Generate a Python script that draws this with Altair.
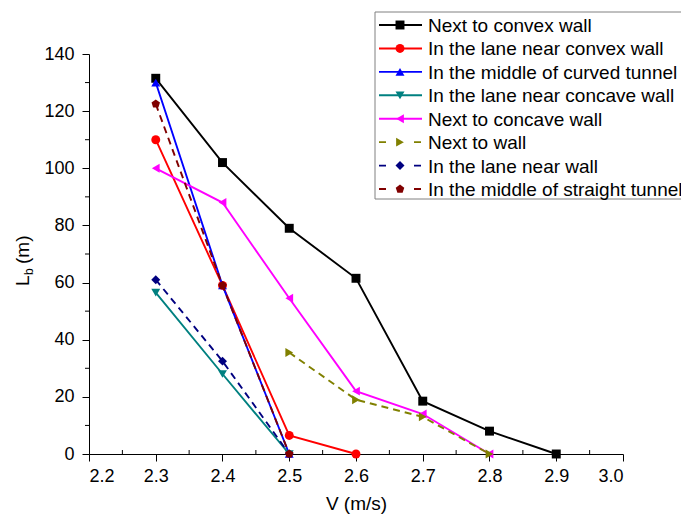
import altair as alt
import pandas as pd

# ---------------- data ----------------
series_names = [
    "Next to convex wall",
    "In the lane near convex wall",
    "In the middle of curved tunnel",
    "In the lane near concave wall",
    "Next to concave wall",
    "Next to wall",
    "In the lane near wall",
    "In the middle of straight tunnel",
]
series_x = [
    [2.3, 2.4, 2.5, 2.6, 2.7, 2.8, 2.9],
    [2.3, 2.4, 2.5, 2.6],
    [2.3, 2.4, 2.5],
    [2.3, 2.4, 2.5],
    [2.3, 2.4, 2.5, 2.6, 2.7, 2.8],
    [2.5, 2.6, 2.7, 2.8],
    [2.3, 2.4, 2.5],
    [2.3, 2.4, 2.5],
]
series_y = [
    [131.5, 102, 79, 61.5, 18.5, 8, 0],
    [110, 59, 6.5, 0],
    [130, 59, 0],
    [56.5, 28, 0],
    [100, 88, 54.5, 22, 14, 0],
    [35.5, 19, 13, 0],
    [61, 32.5, 0],
    [122.5, 59, 0],
]
series_colors = ["#000000", "#FF0000", "#0000FF", "#008080", "#FF00FF",
                 "#808000", "#000080", "#800000"]
pentagon = "M0,-1L0.951,-0.309L0.588,0.809L-0.588,0.809L-0.951,-0.309Z"
series_shapes = ["square", "circle", "triangle-up", "triangle-down",
                 "triangle-left", "triangle-right", "diamond", pentagon]
series_dashed = [False, False, False, False, False, True, True, True]

x_major = [2.2, 2.3, 2.4, 2.5, 2.6, 2.7, 2.8, 2.9, 3.0]
x_minor = [2.25, 2.35, 2.45, 2.55, 2.65, 2.75, 2.85, 2.95]
y_major = [0, 20, 40, 60, 80, 100, 120, 140]
y_minor = [10, 30, 50, 70, 90, 110, 130]

# ---------------- layout ----------------
W, H = 534, 400
FONT = "Liberation Sans"
LABEL_SIZE = 18
MSIZE = 80

x_scale = alt.Scale(domain=[2.2, 3.0], nice=False, zero=False)
y_scale = alt.Scale(domain=[0, 140], nice=False, zero=False)


def make_x_axis():
    return alt.Axis(values=x_major, format=".1f", tickSize=7, labelFontSize=LABEL_SIZE,
                    labelPadding=6, title="V (m/s)", titleFontSize=19,
                    titleFontWeight="normal", titlePadding=9, labelFont=FONT,
                    titleFont=FONT)


def make_y_axis():
    return alt.Axis(values=y_major, tickSize=7, labelFontSize=LABEL_SIZE, labelPadding=8,
                    title=None, labelFont=FONT)


one = pd.DataFrame({"k": [0]})

layers = []
for i, name in enumerate(series_names):
    df = pd.DataFrame({"V": series_x[i], "L": series_y[i]})
    line_kw = dict(color=series_colors[i], strokeWidth=1.9)
    if series_dashed[i]:
        line_kw["strokeDash"] = [7, 5]
    enc = dict(
        x=alt.X("V:Q", scale=x_scale, axis=make_x_axis()),
        y=alt.Y("L:Q", scale=y_scale, axis=make_y_axis()),
    )
    layers.append(alt.Chart(df).mark_line(**line_kw).encode(**enc))
    layers.append(
        alt.Chart(df)
        .mark_point(shape=series_shapes[i], filled=True, size=MSIZE,
                    color=series_colors[i], opacity=1)
        .encode(**enc)
    )

# minor ticks
xm = pd.DataFrame({"V": x_minor})
layers.append(
    alt.Chart(xm).mark_rule(color="black", strokeWidth=1).encode(
        x=alt.X("V:Q", scale=x_scale), y=alt.value(H), y2=alt.value(H - 4))
)
ym = pd.DataFrame({"L": y_minor})
layers.append(
    alt.Chart(ym).mark_rule(color="black", strokeWidth=1).encode(
        y=alt.Y("L:Q", scale=y_scale), x=alt.value(0), x2=alt.value(-4))
)

# y title with subscript
ty = 232
layers.append(alt.Chart(one).mark_text(angle=270, align="left", baseline="alphabetic",
                                       fontSize=19, font=FONT, color="black").encode(
    x=alt.value(-60), y=alt.value(ty), text=alt.value("L")))
layers.append(alt.Chart(one).mark_text(angle=270, align="left", baseline="alphabetic",
                                       fontSize=12, font=FONT, color="black").encode(
    x=alt.value(-56), y=alt.value(ty - 11), text=alt.value("b")))
layers.append(alt.Chart(one).mark_text(angle=270, align="left", baseline="alphabetic",
                                       fontSize=19, font=FONT, color="black").encode(
    x=alt.value(-60), y=alt.value(ty - 22), text=alt.value("(m)")))

# legend
lx0 = 375 - 89
layers.append(alt.Chart(one).mark_rect(fill="white", stroke="#808080", strokeWidth=1).encode(
    x=alt.value(lx0), x2=alt.value(lx0 + 340), y=alt.value(12 - 54), y2=alt.value(199 - 54)))
for i, name in enumerate(series_names):
    yy = 25 - 54 + 23.43 * i
    kw = dict(color=series_colors[i], strokeWidth=1.9)
    if series_dashed[i]:
        kw["strokeDash"] = [7, 28]
    layers.append(alt.Chart(one).mark_rule(**kw).encode(
        x=alt.value(lx0 + 4), x2=alt.value(lx0 + 47), y=alt.value(yy)))
    layers.append(alt.Chart(one).mark_point(shape=series_shapes[i], filled=True, size=MSIZE,
                                            color=series_colors[i], opacity=1).encode(
        x=alt.value(lx0 + 25), y=alt.value(yy)))
    layers.append(alt.Chart(one).mark_text(align="left", baseline="middle", fontSize=19,
                                           font=FONT, color="black").encode(
        x=alt.value(lx0 + 53), y=alt.value(yy + 1), text=alt.value(name)))

chart = (
    alt.layer(*layers)
    .properties(width=W, height=H,
                autosize=alt.AutoSizeParams(type="none"),
                padding={"left": 89, "top": 54, "right": 58, "bottom": 64})
    .configure_view(stroke=None)
    .configure_axis(grid=False, domainColor="black", tickColor="black",
                    labelColor="black", titleColor="black", domainWidth=1,
                    tickWidth=1)
)

chart.save("out.html", embed_options={"renderer": "svg", "actions": False})
